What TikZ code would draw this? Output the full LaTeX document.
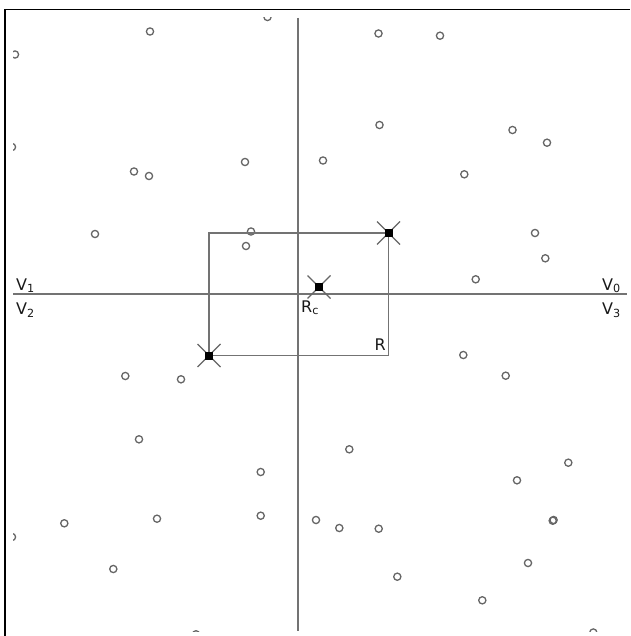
\documentclass[tikz,border=0pt]{standalone}
\usepackage{fontspec}
\setmainfont{DejaVu Sans}
\usetikzlibrary{calc}
\begin{document}
\begin{tikzpicture}[x=1pt,y=-1pt,
  frameline/.style={draw=black, line width=1.8pt},
  axisline/.style={draw=black!55, line width=1.6pt},
  rectline/.style={draw=black!55, line width=1.5pt},
  sample/.style={draw=black!60, line width=1.3pt},
  crossarm/.style={draw=black!60, line width=1.3pt},
  marksq/.style={fill=black, draw=none, minimum size=8pt, inner sep=0pt, rectangle},
  lbl/.style={inner sep=0pt, font=\fontsize{16}{18}\selectfont, text=black!90}]
\useasboundingbox (0,0) rectangle (630,636);
\fill[white] (0,0) rectangle (630,636);
% frame (only top and left visible)
\coordinate (fA) at (5,636);
\coordinate (fB) at (5,9.5);
\coordinate (fC) at (630,9.5);
\draw[frameline] (fA) -- (fB) -- (fC);
% axes
\coordinate (axT) at (298,18);
\coordinate (axB) at (298,631);
\coordinate (axL) at (13,294);
\coordinate (axR) at (627,294);
\draw[axisline] (axT) -- (axB);
\draw[axisline] (axL) -- (axR);
% sample points
\begin{scope}
\clip (13,17.5) rectangle (627,631.5);
\foreach \px/\py in {150/31.5,15/54.5,12/147,267.5/17,245/162,134/171.5,149/176,95/234,251/231.5,246/246,323/160.5,
  378.5/33.5,440/35.7,379.5/125,512.5/130,547/142.7,464.3/174.3,535/233,545.3/258.3,475.7/279.3,
  125.3/376,181/379.3,139/439.3,260.7/472,64.3/523.3,157/518.7,260.7/515.7,316/520,113.3/569,12/537,
  463.3/355,505.7/375.7,349.3/449.3,568.3/462.7,517/480.3,339.3/528,378.7/528.7,552.7/520.7,553.6/520,
  528/563,397.3/576.7,482.3/600.3,593.3/632.5,196/634.3}
  \draw[sample] (\px,\py) circle (3.6pt);
\end{scope}
% rectangle R
\coordinate (rTL) at (209,233);
\coordinate (rTR) at (388.5,233);
\coordinate (rBR) at (388.5,355.5);
\coordinate (rBL) at (209,355.5);
\draw[rectline] (rTL) -- (rTR) -- (rBR) -- (rBL) -- cycle;
% marked points
\foreach \nm/\px/\py in {pA/388.5/233, pB/209/355.5, pC/319/287}{
  \coordinate (\nm) at (\px,\py);
  \draw[crossarm] ($(\nm)+(-11.5,-11.5)$) -- ($(\nm)+(11.5,11.5)$);
  \draw[crossarm] ($(\nm)+(-11.5,11.5)$) -- ($(\nm)+(11.5,-11.5)$);
  \node[marksq] at (\nm) {};
}
% labels
\node[lbl, anchor=base west] (v1) at (16,290) {V\textsubscript{1}};
\node[lbl, anchor=base west] (v2) at (16,314.5) {V\textsubscript{2}};
\node[lbl, anchor=base west] (v0) at (602,290) {V\textsubscript{0}};
\node[lbl, anchor=base west] (v3) at (602,314.5) {V\textsubscript{3}};
\node[lbl, anchor=base west] (rc) at (301,312) {R\textsubscript{c}};
\node[lbl, anchor=base west] (rr) at (374.5,350) {R};
\end{tikzpicture}
\end{document}
